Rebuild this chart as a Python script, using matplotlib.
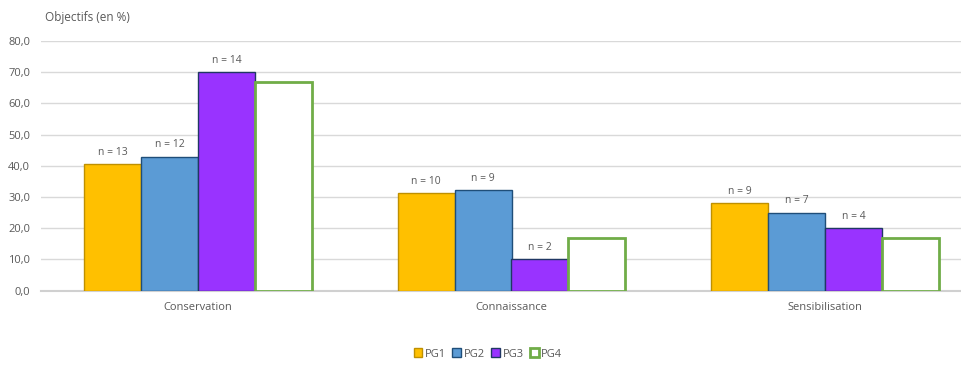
import matplotlib.pyplot as plt
from matplotlib.patches import Patch
import numpy as np

categories = ["Conservation", "Connaissance", "Sensibilisation"]
series = ["PG1", "PG2", "PG3", "PG4"]
values = {
    "PG1": [40.6, 31.3, 28.1],
    "PG2": [42.9, 32.1, 25.0],
    "PG3": [70.0, 10.0, 20.0],
    "PG4": [66.7, 16.7, 16.7],
}
counts = {
    "PG1": ["n = 13", "n = 10", "n = 9"],
    "PG2": ["n = 12", "n = 9", "n = 7"],
    "PG3": ["n = 14", "n = 2", "n = 4"],
    "PG4": ["", "", ""],
}
yticks = [0, 10, 20, 30, 40, 50, 60, 70, 80]

faces = {"PG1": "#FFC000", "PG2": "#5B9BD5", "PG3": "#9933FF", "PG4": "white"}
edges = {"PG1": "#BF9000", "PG2": "#1F4E79", "PG3": "#203864", "PG4": "#70AD47"}
lws = {"PG1": 1.0, "PG2": 1.0, "PG3": 1.0, "PG4": 2.0}

plt.rcParams["font.family"] = ["Open Sans", "DejaVu Sans"]
txt = "#595959"

W, H = 961, 368
fig = plt.figure(figsize=(W / 100, H / 100), dpi=100)
left, right = 41.25 / W, 981.75 / W
bottom, top = 1 - 290.5 / H, 1 - 41 / H
ax = fig.add_axes([left, bottom, right - left, top - bottom])

x = np.arange(len(categories))
bw = 0.1815
for i, s in enumerate(series):
    pos = x + (i - 1.5) * bw
    bars = ax.bar(pos, values[s], width=bw, color=faces[s], edgecolor=edges[s],
                  linewidth=lws[s], zorder=3)
    for b, lab in zip(bars, counts[s]):
        if lab:
            ax.annotate(lab, (b.get_x() + b.get_width() / 2, b.get_height()),
                        xytext=(0, 4.5), textcoords="offset points",
                        ha="center", va="bottom", fontsize=7.5, color=txt)

ax.set_xlim(-0.5, len(categories) - 0.5)
ax.set_ylim(0, 80)
ax.set_yticks(yticks)
ax.set_yticklabels([f"{v:.1f}".replace(".", ",") for v in yticks])
ax.set_xticks(x)
ax.set_xticklabels(categories)
ax.tick_params(axis="both", length=0, labelsize=8, labelcolor=txt)
ax.tick_params(axis="y", pad=8)
ax.tick_params(axis="x", pad=8)
ax.yaxis.grid(True, color="#D9D9D9", linewidth=1.0, zorder=0)
for sp in ["top", "right", "left"]:
    ax.spines[sp].set_visible(False)
ax.spines["bottom"].set_color("#D0D0D0")
ax.spines["bottom"].set_linewidth(1.5)
ax.spines["bottom"].set_zorder(2)

fig.text(45 / W, 1 - 17 / H, "Objectifs (en %)", ha="left", va="center",
         fontsize=8.5, color=txt)

handles = [Patch(facecolor=faces[s], edgecolor=edges[s], linewidth=lws[s]) for s in series]
fig.legend(handles, series, loc="center", bbox_to_anchor=(488 / W, 1 - 354 / H),
           ncol=4, frameon=False, fontsize=8, handlelength=0.8, handleheight=0.8,
           handletextpad=0.2, columnspacing=0.6, labelcolor=txt)

fig.savefig("out.png", dpi=100)
